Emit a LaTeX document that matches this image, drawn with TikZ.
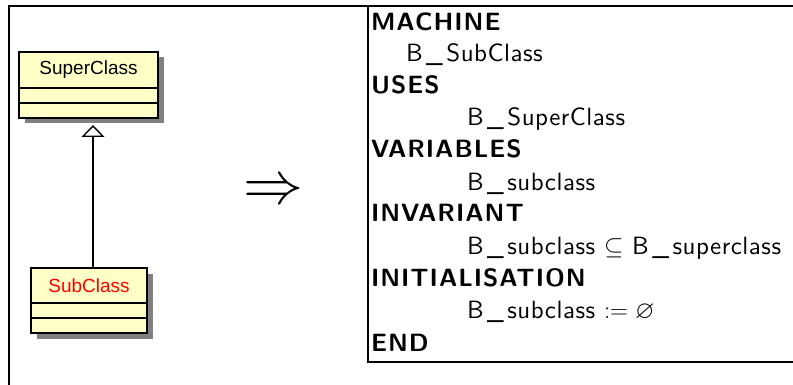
\documentclass[tikz,border=0pt]{standalone}
\usepackage{amssymb}
\usepackage{fontspec}
\newfontfamily\umlfont{Liberation Sans}
\newfontfamily\bsans{lmsans10-regular.otf}[LetterSpace=2]
\newfontfamily\bsansbold{lmsans10-bold.otf}[LetterSpace=4]
\usetikzlibrary{arrows.meta,shadows}

\definecolor{classfill}{HTML}{FFFFC8}
\definecolor{shadowgray}{HTML}{808080}

\newcommand{\bu}{\kern3.5pt\_\kern3.5pt}

\begin{document}
\begin{tikzpicture}[x=1pt, y=-1pt,
  every node/.style={inner sep=0pt, outer sep=0pt},
  frame/.style={line width=2pt},
  compart/.style={rectangle, draw, line width=1.6pt, fill=classfill,
    drop shadow={shadow xshift=6pt, shadow yshift=-5.5pt, fill=shadowgray, opacity=1}},
  classname/.style={compart, minimum height=36pt, font=\umlfont\fontsize{19}{19}\selectfont},
  classpart/.style={compart, minimum height=15pt, anchor=north},
  generalization/.style={line width=1.6pt, -{Triangle[open, width=23pt, length=12pt, line width=1.4pt]}},
  kw/.style={anchor=base west, font=\bsansbold\fontsize{25}{25}\selectfont},
  body/.style={anchor=base west, font=\bsans\fontsize{25}{25}\selectfont}]

  \useasboundingbox (0,0) rectangle (793,385);

  % frames
  \draw[frame] (8,6) -- (793,6);
  \draw[frame] (9,6) -- (9,385);
  \draw[frame] (368,6) -- (368,362) -- (793,362);

  % UML classes
  \node[classname, minimum width=139pt] (super) at (88.5,70) {SuperClass};
  \node[classpart, minimum width=139pt] (superA) at (super.south) {};
  \node[classpart, minimum width=139pt] (superB) at (superA.south) {};

  \node[classname, minimum width=116pt, minimum height=35pt, text=red] (sub) at (89,285.5) {SubClass};
  \node[classpart, minimum width=116pt] (subA) at (sub.south) {};
  \node[classpart, minimum width=116pt] (subB) at (subA.south) {};

  \draw[generalization, shorten >=7pt] ([xshift=4pt]sub.north) -- ([xshift=4pt]sub.north |- superB.south);

  % translation
  \node (impl) at (273,192) {\scalebox{6}{$\Rightarrow$}};

  % B machine
  \node[kw]   (mach)  at (371,31)  {MACHINE};
  \node[body] (machN) at (406,62)  {B\bu SubClass};
  \node[kw]   (uses)  at (371,94)  {USES};
  \node[body] (usesN) at (467,126) {B\bu SuperClass};
  \node[kw]   (vars)  at (371,158) {VARIABLES};
  \node[body] (varsN) at (467,190) {B\bu subclass};
  \node[kw]   (inv)   at (371,222) {INVARIANT};
  \node[body] (invN)  at (467,254) {B\bu subclass $\subseteq$ B\bu superclass};
  \node[kw]   (init)  at (371,286) {INITIALISATION};
  \node[body] (initN) at (467,318) {B\bu subclass $:=\varnothing$};
  \node[kw]   (end)   at (371,351) {END};

\end{tikzpicture}
\end{document}
